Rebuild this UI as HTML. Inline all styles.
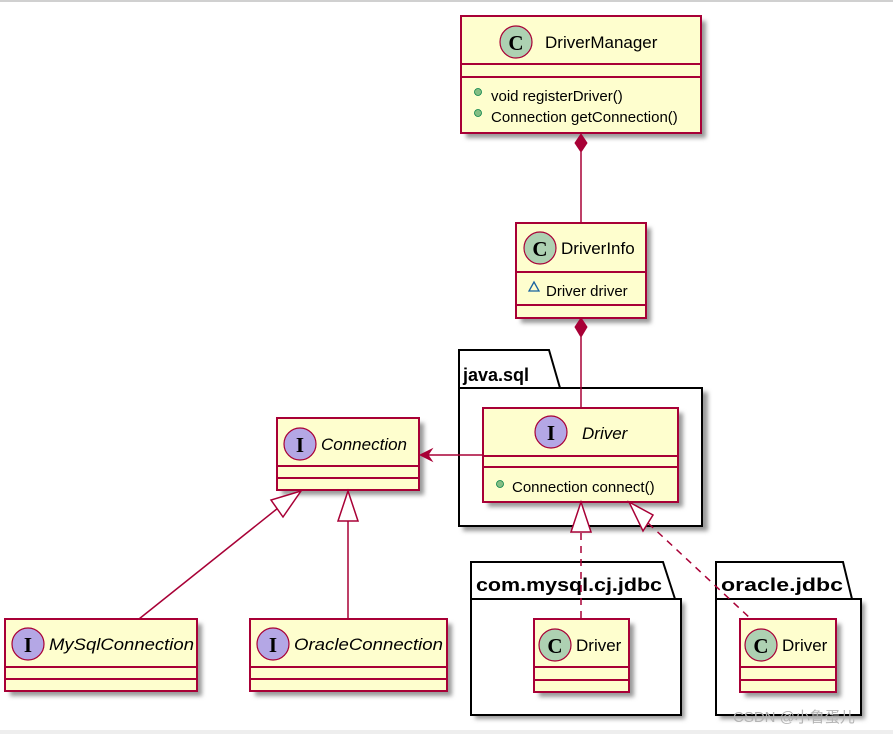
<!DOCTYPE html>
<html><head><meta charset="utf-8"><style>
html,body{margin:0;padding:0;background:#fff;width:893px;height:734px;overflow:hidden}
svg{display:block}
text{font-family:"Liberation Sans","Noto Sans CJK SC",sans-serif}
</style></head><body>
<svg width="893" height="734" viewBox="0 0 893 734" xmlns="http://www.w3.org/2000/svg">
<defs>
<filter id="sh" x="-10%" y="-10%" width="130%" height="140%"><feGaussianBlur stdDeviation="2"/></filter>
</defs>
<rect x="0" y="0" width="893" height="2" fill="#d0d0d0"/>
<rect x="0" y="730" width="893" height="4" fill="#eeeeee"/>

<g fill="#fff" stroke="#000" stroke-width="2">
  <rect x="463" y="392" width="245" height="139" fill="#999" stroke="none" filter="url(#sh)"/>
  <polygon points="459,388 459,350 549,350 560,388"/>
  <rect x="459" y="388" width="243" height="138"/>
  <rect x="475" y="603" width="210" height="116" fill="#999" stroke="none" filter="url(#sh)"/>
  <polygon points="471,599 471,562 663,562 675,599"/>
  <rect x="471" y="599" width="210" height="116"/>
  <rect x="720" y="603" width="145" height="116" fill="#999" stroke="none" filter="url(#sh)"/>
  <polygon points="716,599 716,562 843,562 852,599"/>
  <rect x="716" y="599" width="145" height="116"/>
</g>
<g font-weight="bold" font-size="18" fill="#000">
  <text x="463" y="381">java.sql</text>
  <text x="476" y="591" textLength="186" lengthAdjust="spacingAndGlyphs">com.mysql.cj.jdbc</text>
  <text x="721" y="591" textLength="122" lengthAdjust="spacingAndGlyphs">oracle.jdbc</text>
</g>

<g fill="#999" filter="url(#sh)">
  <rect x="466" y="21" width="240" height="117"/>
  <rect x="521" y="228" width="130" height="95"/>
  <rect x="488" y="413" width="195" height="94"/>
  <rect x="282" y="423" width="142" height="72"/>
  <rect x="10" y="624" width="192" height="72"/>
  <rect x="255" y="624" width="197" height="72"/>
  <rect x="539" y="624" width="95" height="73"/>
  <rect x="745" y="624" width="96" height="73"/>
</g>

<g fill="#fefece" stroke="#a80036" stroke-width="2">
  <rect x="461" y="16" width="240" height="117"/>
  <line x1="461" y1="64" x2="701" y2="64"/><line x1="461" y1="77" x2="701" y2="77"/>
  <rect x="516" y="223" width="130" height="95"/>
  <line x1="516" y1="272" x2="646" y2="272"/><line x1="516" y1="305" x2="646" y2="305"/>
  <rect x="483" y="408" width="195" height="94"/>
  <line x1="483" y1="456" x2="678" y2="456"/><line x1="483" y1="467" x2="678" y2="467"/>
  <rect x="277" y="418" width="142" height="72"/>
  <line x1="277" y1="466" x2="419" y2="466"/><line x1="277" y1="478" x2="419" y2="478"/>
  <rect x="5" y="619" width="192" height="72"/>
  <line x1="5" y1="667" x2="197" y2="667"/><line x1="5" y1="679" x2="197" y2="679"/>
  <rect x="250" y="619" width="197" height="72"/>
  <line x1="250" y1="667" x2="447" y2="667"/><line x1="250" y1="679" x2="447" y2="679"/>
  <rect x="534" y="619" width="95" height="73"/>
  <line x1="534" y1="667" x2="629" y2="667"/><line x1="534" y1="680" x2="629" y2="680"/>
  <rect x="740" y="619" width="96" height="73"/>
  <line x1="740" y1="667" x2="836" y2="667"/><line x1="740" y1="680" x2="836" y2="680"/>
</g>

<g stroke="#a80036" stroke-width="1.2">
  <circle cx="516" cy="42" r="16" fill="#add1b2"/>
  <circle cx="540" cy="248" r="16" fill="#add1b2"/>
  <circle cx="551" cy="432" r="16" fill="#b4a7e5"/>
  <circle cx="300" cy="444" r="16" fill="#b4a7e5"/>
  <circle cx="28" cy="644" r="16" fill="#b4a7e5"/>
  <circle cx="273" cy="644" r="16" fill="#b4a7e5"/>
  <circle cx="555" cy="645" r="16" fill="#add1b2"/>
  <circle cx="761" cy="645" r="16" fill="#add1b2"/>
</g>
<g font-size="21" font-weight="bold" text-anchor="middle" fill="#000">
  <text x="516" y="50" style="font-family:'Liberation Serif',serif">C</text>
  <text x="540" y="256" style="font-family:'Liberation Serif',serif">C</text>
  <text x="551" y="440" style="font-family:'Liberation Serif',serif">I</text>
  <text x="300" y="452" style="font-family:'Liberation Serif',serif">I</text>
  <text x="28" y="652" style="font-family:'Liberation Serif',serif">I</text>
  <text x="273" y="652" style="font-family:'Liberation Serif',serif">I</text>
  <text x="555" y="653" style="font-family:'Liberation Serif',serif">C</text>
  <text x="761" y="653" style="font-family:'Liberation Serif',serif">C</text>
</g>

<g font-size="17" fill="#000">
  <text x="545" y="48">DriverManager</text>
  <text x="561" y="254">DriverInfo</text>
  <text x="582" y="439" font-style="italic">Driver</text>
  <text x="321" y="450" font-style="italic">Connection</text>
  <text x="49" y="650" font-style="italic" textLength="145" lengthAdjust="spacingAndGlyphs">MySqlConnection</text>
  <text x="294" y="650" font-style="italic" textLength="149" lengthAdjust="spacingAndGlyphs">OracleConnection</text>
  <text x="576" y="651">Driver</text>
  <text x="782" y="651">Driver</text>
</g>
<g font-size="15" fill="#000">
  <text x="491" y="101">void registerDriver()</text>
  <text x="491" y="122">Connection getConnection()</text>
  <text x="546" y="296">Driver driver</text>
  <text x="512" y="492">Connection connect()</text>
</g>
<g fill="#84be84" stroke="#038048" stroke-width="0.8">
  <circle cx="478" cy="92" r="3.5"/><circle cx="478" cy="113" r="3.5"/><circle cx="500" cy="484" r="3.5"/>
</g>
<polygon points="534,282 529,291 539,291" fill="none" stroke="#1963a0" stroke-width="1.3"/>

<g stroke="#a80036" stroke-width="1.5" fill="none">
  <line x1="581" y1="152" x2="581" y2="223"/>
  <line x1="581" y1="337" x2="581" y2="408"/>
  <line x1="483" y1="455" x2="421" y2="455"/>
  <line x1="139" y1="619" x2="278" y2="508"/>
  <line x1="348" y1="619" x2="348" y2="521"/>
  <line x1="581" y1="533" x2="581" y2="619" stroke-dasharray="7,6"/>
  <line x1="648" y1="523" x2="751" y2="619" stroke-dasharray="7,6"/>
</g>
<g fill="#a80036" stroke="#a80036">
  <polygon points="581,134 587,143 581,152 575,143"/>
  <polygon points="581,318 587,327 581,337 575,327"/>
  <polygon points="420,455 432,449 428,455 432,461"/>
</g>
<g fill="#fff" stroke="#a80036" stroke-width="1.5">
  <polygon points="301,491 271,500 283,517"/>
  <polygon points="348,491 338,521 358,521"/>
  <polygon points="581,502 571,532 591,532"/>
  <polygon points="629,502 653,515 643,531"/>
</g>

<text x="733" y="722" font-size="15" fill="#b4b4b4">CSDN @小鲁蛋儿</text>
</svg>
</body></html>
